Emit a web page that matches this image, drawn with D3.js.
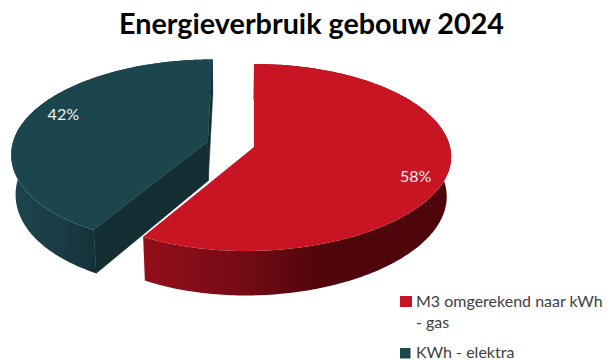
<!DOCTYPE html>
<html>
<head>
<meta charset="utf-8">
<script src="https://cdn.jsdelivr.net/npm/d3@7"></script>
<style>
html,body{margin:0;padding:0;background:#fff;overflow:hidden}
svg{display:block}
text{font-family:Lato,"Open Sans",sans-serif}
</style>
</head>
<body>
<svg id="chart" width="613" height="360"></svg>
<script>
const chartTitle = "Energieverbruik gebouw 2024";
const categories = ["M3 omgerekend naar kWh - gas", "KWh - elektra"];
const shares = [58, 42];
const tickLabels = ["58%", "42%"];

const svg = d3.select("#chart");
const fmt = d3.format(".2f");

// Tilted-disc projection: plane coordinates (u right, v towards viewer), z = drop below the top face
const cam = {cx: 254, cy: 147, R: 196, a: 92.3, k: 0.1123, depth: 39.5, vanishX: 230, shrink: 0.02, nearSkew: -8};
function project(u, v, z) {
  const w = 1 - cam.k * v;
  let x = cam.cx + cam.R * u / w + (v > 0 ? cam.nearSkew * v * v : 0);
  const y = cam.cy + cam.a * v / w + cam.depth * z / w;
  if (z) x = cam.vanishX + (x - cam.vanishX) * (1 - cam.shrink * z);
  return [x, y];
}

const pie = d3.pie().sort(null).value(d => d);
const slices = pie(shares);
const explode = [0, 0.245];
const fills = ["#c81423", "#1c464e"];
const labelSpots = [[0.80, 0.31], [-0.775, -0.30]];

const line = d3.line().x(d => d[0]).y(d => d[1]);
const pathOf = pts => line(pts.map(p => p.map(n => +fmt(n)))) + "Z";

// Each slice is moved along its own bisector
function geometry(s, i) {
  const mid = (s.startAngle + s.endAngle) / 2;
  const du = explode[i] * Math.sin(mid), dv = -explode[i] * Math.cos(mid);
  const n = Math.ceil((s.endAngle - s.startAngle) * 60);
  const angles = d3.range(n + 1).map(j => s.startAngle + (s.endAngle - s.startAngle) * j / n);
  const rim = z => angles.map(t => project(du + Math.sin(t), dv - Math.cos(t), z));
  return {apex: z => project(du, dv, z), rim, du, dv};
}
const geo = slices.map(geometry);

// Wall shading runs from left to right along each rim
const defs = svg.append("defs");
function wallGradient(id, x1, x2, stops) {
  const g = defs.append("linearGradient").attr("id", id)
    .attr("gradientUnits", "userSpaceOnUse").attr("x1", x1).attr("x2", x2).attr("y1", 0).attr("y2", 0);
  stops.forEach(([o, c]) => g.append("stop").attr("offset", o).attr("stop-color", c));
}
wallGradient("wallRed", 147, 345, [[0, "#920e1b"], [0.45, "#770b15"], [0.85, "#52060c"], [1, "#4e060b"]]);
wallGradient("wallTeal", 12, 95, [[0, "#1c444c"], [0.6, "#1a3c45"], [1, "#153039"]]);

const wallFill = ["url(#wallRed)", "url(#wallTeal)"];
const cutFill = "#142e33";

// Far slice first so the near one overlaps it
[1, 0].forEach(i => {
  const g = geo[i];
  const top = g.rim(0), low = g.rim(1);
  svg.append("path").attr("d", pathOf(top.concat(low.slice().reverse()))).attr("fill", wallFill[i]);
  if (i === 1) {
    // Cut faces exposed by pulling the slice away from the centre
    [top[0], top[top.length - 1]].forEach((edge, j) => {
      const edgeLow = j === 0 ? low[0] : low[low.length - 1];
      svg.append("path")
        .attr("d", pathOf([g.apex(0), edge, edgeLow, g.apex(1)]))
        .attr("fill", cutFill).attr("stroke", cutFill).attr("stroke-width", 0.5);
    });
  }
  svg.append("path").attr("d", pathOf([g.apex(0)].concat(top))).attr("fill", fills[i]);
});

// Value labels on the top faces
slices.forEach((s, i) => {
  const g = geo[i];
  const p = project(g.du + labelSpots[i][0], g.dv + labelSpots[i][1], 0);
  svg.append("text").attr("x", p[0]).attr("y", p[1] + 5.5)
    .attr("text-anchor", "middle").attr("font-size", 16).attr("fill", "#f2f2f2")
    .text(tickLabels[i]);
});

svg.append("text").attr("x", 311.5).attr("y", 34)
  .attr("text-anchor", "middle").attr("font-size", 29).attr("font-weight", 700).attr("fill", "#000")
  .attr("textLength", 385).attr("lengthAdjust", "spacingAndGlyphs")
  .text(chartTitle);

// Legend, the first entry wrapping onto two lines
const legendRows = [
  {swatchY: 296, size: 12, lines: [["M3 omgerekend naar kWh", 307], ["- gas", 328]]},
  {swatchY: 348, size: 10.5, lines: [["KWh - elektra", 358]]}
];
legendRows.forEach((row, i) => {
  svg.append("rect").attr("x", 400).attr("y", row.swatchY)
    .attr("width", row.size).attr("height", row.size - (i ? 0 : 1)).attr("fill", fills[i]);
  row.lines.forEach(([t, y]) => {
    svg.append("text").attr("x", 416).attr("y", y)
      .attr("font-size", 16).attr("fill", "#404040").text(t);
  });
});
</script>
</body>
</html>
